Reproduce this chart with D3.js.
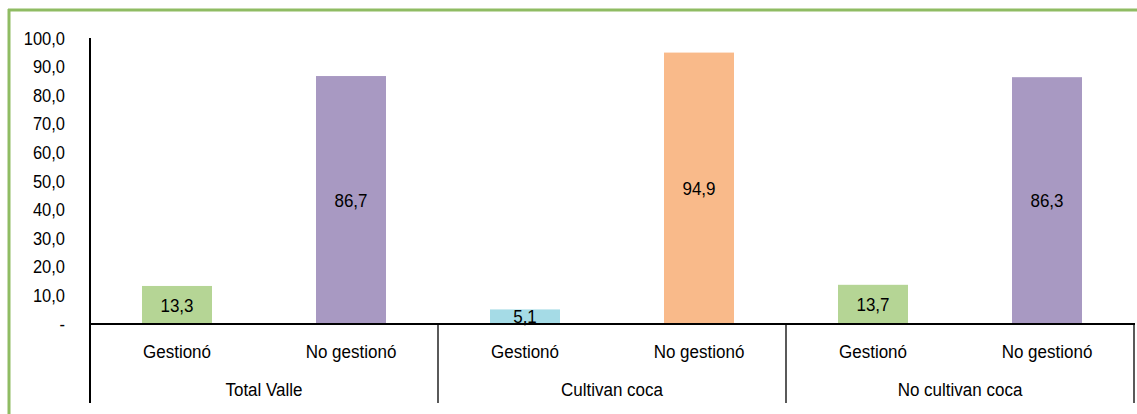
<!DOCTYPE html>
<html><head><meta charset="utf-8">
<script src="https://cdn.jsdelivr.net/npm/d3@7"></script>
<style>body{margin:0;background:#fff}svg{display:block}text{font-family:"Liberation Sans",Arial,sans-serif;fill:#000}</style>
</head><body><svg id="c" width="1137" height="414"></svg>
<script>
const groups = ["Total Valle","Cultivan coca","No cultivan coca"];
const categories = ["Gestionó","No gestionó"];
const values = [13.3, 86.7, 5.1, 94.9, 13.7, 86.3];
const colors = ["#b5d595","#a899c2","#a5dbe6","#f9ba8a","#b5d595","#a899c2"];
const yTicks = [0,10,20,30,40,50,60,70,80,90,100];

const svg = d3.select("#c");
// green frame
svg.append("line").attr("x1",8).attr("x2",1137).attr("y1",10).attr("y2",10).attr("stroke","#8fbc63").attr("stroke-width",3);
svg.append("line").attr("x1",9).attr("x2",9).attr("y1",9).attr("y2",414).attr("stroke","#8fbc63").attr("stroke-width",3);

const x0 = 90, x1 = 1134, yb = 324, yt = 38;
const y = d3.scaleLinear().domain([0,100]).range([yb,yt]);
const items = [];
groups.forEach((g,gi)=>categories.forEach((c,ci)=>items.push({g,c,key:gi+"|"+ci,v:values[gi*2+ci],col:colors[gi*2+ci]})));
const x = d3.scaleBand().domain(items.map(d=>d.key)).range([x0,x1]).paddingInner(0).paddingOuter(0);
const xg = d3.scaleBand().domain(groups).range([x0,x1]);
const fmt = v => v===0 ? "-" : d3.format(".1f")(v).replace(".",",");
const SY = 1.13;
function txt(sel, fx, fy, anchor, size) {
  sel.attr("transform", d => `translate(${fx(d)},${fy(d)}) scale(1,${SY})`)
     .attr("dy","0.35em").attr("text-anchor",anchor).style("font-size",size+"px");
}

// y labels
svg.append("g").selectAll("text").data(yTicks).join("text")
  .call(txt, d=>65, d=>y(d), "end", 16.5).text(fmt);

const bw = 70;
svg.append("g").selectAll("rect").data(items).join("rect")
  .attr("x",d=>x(d.key)+x.bandwidth()/2-bw/2).attr("width",bw)
  .attr("y",d=>y(d.v)).attr("height",d=>yb-y(d.v)).attr("fill",d=>d.col);

svg.append("g").selectAll("text").data(items).join("text")
  .call(txt, d=>x(d.key)+x.bandwidth()/2, d=>(y(d.v)+yb)/2, "middle", 17).text(d=>fmt(d.v));

// axes lines
svg.append("line").attr("x1",x0).attr("x2",x0).attr("y1",yt).attr("y2",403).attr("stroke","#000").attr("stroke-width",2);
svg.append("line").attr("x1",x0).attr("x2",x1+1).attr("y1",yb).attr("y2",yb).attr("stroke","#000").attr("stroke-width",2);
svg.append("g").selectAll("line").data(groups.slice(1)).join("line")
  .attr("x1",d=>xg(d)).attr("x2",d=>xg(d)).attr("y1",yb).attr("y2",403).attr("stroke","#000").attr("stroke-width",1.3);
svg.append("line").attr("x1",x1).attr("x2",x1).attr("y1",yb).attr("y2",403).attr("stroke","#000").attr("stroke-width",1.3);

svg.append("g").selectAll("text").data(items).join("text")
  .call(txt, d=>x(d.key)+x.bandwidth()/2, d=>351, "middle", 17).text(d=>d.c);
svg.append("g").selectAll("text").data(groups).join("text")
  .call(txt, d=>xg(d)+xg.bandwidth()/2, d=>389, "middle", 17).text(d=>d);
</script></body></html>
